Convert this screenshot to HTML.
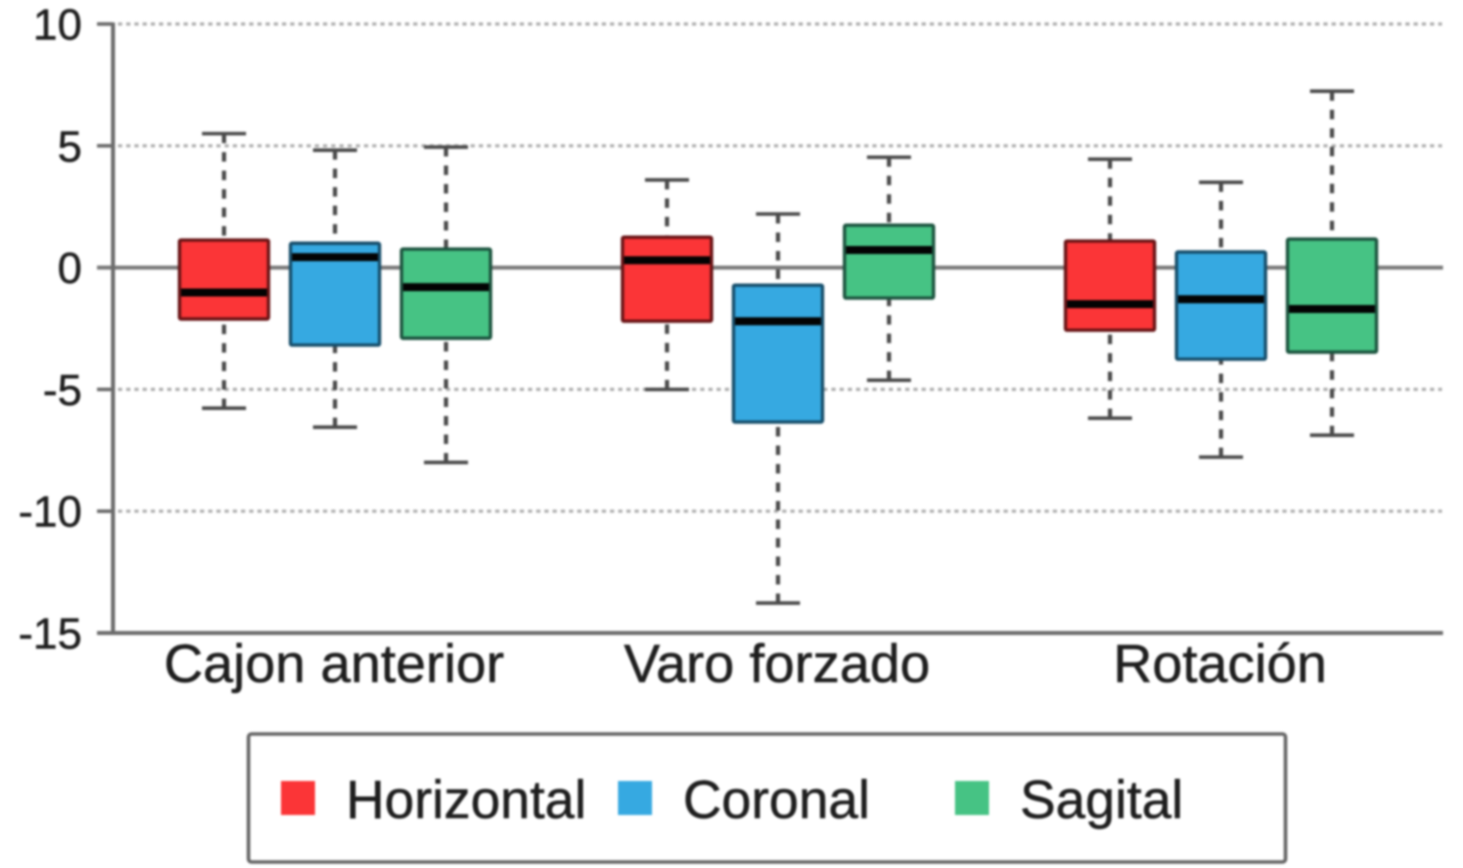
<!DOCTYPE html>
<html lang="es">
<head>
<meta charset="utf-8">
<title>Boxplot</title>
<style>
html,body{margin:0;padding:0;background:#fff;width:1463px;height:868px;overflow:hidden}
svg{display:block;filter:blur(1px)}
text{font-family:"Liberation Sans",Arial,sans-serif;fill:#1e1e1e;stroke:#1e1e1e;stroke-width:0.5px}
</style>
</head>
<body>
<svg id="chart" xmlns="http://www.w3.org/2000/svg" width="1463" height="868" viewBox="0 0 1463 868"></svg>
<script>
const categories = ["Cajon anterior", "Varo forzado", "Rotación"];
const seriesNames = ["Horizontal", "Coronal", "Sagital"];
const tickLabels = [10, 5, 0, -5, -10, -15];
const horizontalHigh = [5.5, 3.6, 4.45];
const horizontalQ3 = [1.13, 1.25, 1.09];
const horizontalMedian = [-1.02, 0.3, -1.5];
const horizontalQ1 = [-2.11, -2.2, -2.57];
const horizontalLow = [-5.77, -5.0, -6.18];
const coronalHigh = [4.82, 2.2, 3.5];
const coronalQ3 = [1.0, -0.72, 0.64];
const coronalMedian = [0.43, -2.2, -1.3];
const coronalQ1 = [-3.18, -6.34, -3.76];
const coronalLow = [-6.55, -13.77, -7.78];
const sagitalHigh = [4.95, 4.53, 7.24];
const sagitalQ3 = [0.76, 1.74, 1.17];
const sagitalMedian = [-0.8, 0.72, -1.7];
const sagitalQ1 = [-2.9, -1.25, -3.47];
const sagitalLow = [-8.0, -4.62, -6.88];

const NS = "http://www.w3.org/2000/svg";
const svg = document.getElementById("chart");
const fills = ["#fb3537", "#36a9e1", "#46c384"];
const strokes = ["#6a1416", "#174f6c", "#1d5540"];
const seriesData = [
  {high: horizontalHigh, q3: horizontalQ3, med: horizontalMedian, q1: horizontalQ1, low: horizontalLow},
  {high: coronalHigh, q3: coronalQ3, med: coronalMedian, q1: coronalQ1, low: coronalLow},
  {high: sagitalHigh, q3: sagitalQ3, med: sagitalMedian, q1: sagitalQ1, low: sagitalLow}
];

function yScale(v) { return 267.6 - v * 24.36; }
function groupX(i) { return 335 + i * 443; }
function boxX(g, s) { return groupX(g) + (s - 1) * 111; }

function make(tag, attrs, text) {
  const el = document.createElementNS(NS, tag);
  for (const k in attrs) el.setAttribute(k, attrs[k]);
  if (text !== undefined) el.textContent = text;
  svg.appendChild(el);
  return el;
}

// grid lines and y axis ticks
tickLabels.forEach(function (t) {
  const y = yScale(t);
  if (t !== 0 && t !== -15) {
    const grid = make("line", {x1: 118, x2: 1442, y1: y, y2: y, stroke: "#aeaeae", "stroke-width": 3.2, "stroke-dasharray": "4.2 4"});
    
    
  }
  const tick = make("line", {x1: 97, x2: 113, y1: y, y2: y, stroke: "#6c6c6c", "stroke-width": 3.6});
  
  
  const label = make("text", {x: 82, y: y + 15.5, "text-anchor": "end", "font-size": 44}, String(t));
  
  
});

// axes and zero line
const zeroLine = make("line", {x1: 97, x2: 1443, y1: yScale(0), y2: yScale(0), stroke: "#7a7a7a", "stroke-width": 4});


const yAxis = make("line", {x1: 113, x2: 113, y1: yScale(10) - 1.5, y2: yScale(-15) + 1.5, stroke: "#6c6c6c", "stroke-width": 4});


const xAxis = make("line", {x1: 97, x2: 1443, y1: yScale(-15), y2: yScale(-15), stroke: "#6c6c6c", "stroke-width": 4});



// boxes
seriesData.forEach(function (d, s) {
  categories.forEach(function (c, g) {
    const x = boxX(g, s);
    const upper = make("line", {x1: x, x2: x, y1: yScale(d.high[g]), y2: yScale(d.q3[g]), stroke: "#4a4a4a", "stroke-width": 4.2, "stroke-dasharray": "9.5 9"});
    
    
    const lower = make("line", {x1: x, x2: x, y1: yScale(d.low[g]), y2: yScale(d.q1[g]), stroke: "#4a4a4a", "stroke-width": 4.2, "stroke-dasharray": "9.5 9"});
    
    
    const capHigh = make("line", {x1: x - 22, x2: x + 22, y1: yScale(d.high[g]), y2: yScale(d.high[g]), stroke: "#4a4a4a", "stroke-width": 3.6});
    
    
    const capLow = make("line", {x1: x - 22, x2: x + 22, y1: yScale(d.low[g]), y2: yScale(d.low[g]), stroke: "#4a4a4a", "stroke-width": 3.6});
    
    
    const box = make("rect", {x: x - 44.5, width: 89, y: yScale(d.q3[g]), height: yScale(d.q1[g]) - yScale(d.q3[g]), rx: 1.5, fill: fills[s], stroke: strokes[s], "stroke-width": 3.4});
    
    
    const median = make("line", {x1: x - 43, x2: x + 43, y1: yScale(d.med[g]), y2: yScale(d.med[g]), stroke: "#030303", "stroke-width": 8});
    
    
  });
});

// category labels
categories.forEach(function (c, g) {
  const label = make("text", {x: groupX(g) - 1, y: 682, "text-anchor": "middle", "font-size": 54.2}, c);
  
  
});

// legend
const legendBox = make("rect", {x: 248.5, y: 734, width: 1037, height: 128, rx: 3, fill: "#fff", stroke: "#666", "stroke-width": 3.6});


const legendSwatchX = [281, 618, 955];
seriesNames.forEach(function (name, s) {
  const swatch = make("rect", {x: legendSwatchX[s], y: 781, width: 34, height: 34, fill: fills[s]});
  
  
  const label = make("text", {x: legendSwatchX[s] + 65, y: 818, "font-size": 53.4}, name);
  
  
});
</script>
</body>
</html>
